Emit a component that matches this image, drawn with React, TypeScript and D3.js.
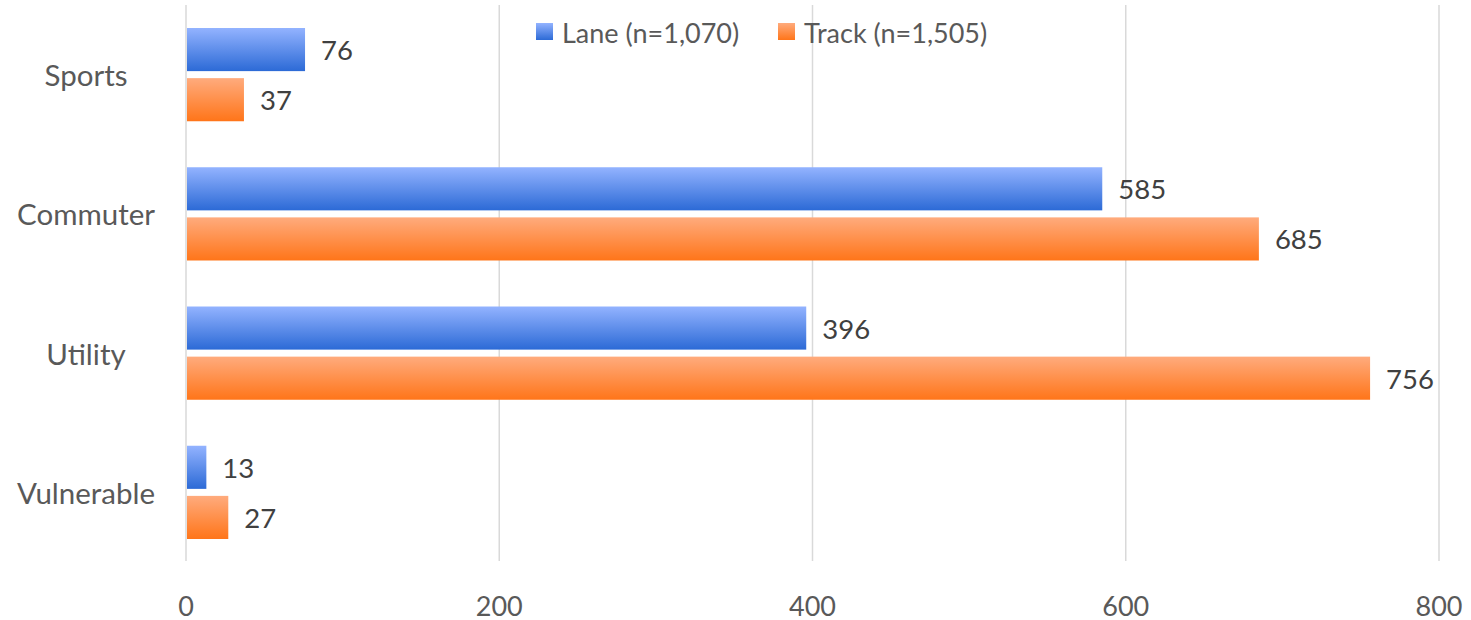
import React, { useEffect, useRef } from 'react';
import * as d3 from 'd3';

const categories = ['Sports', 'Commuter', 'Utility', 'Vulnerable'];
const seriesNames = ['Lane (n=1,070)', 'Track (n=1,505)'];
const laneValues = [76, 585, 396, 13];
const trackValues = [37, 685, 756, 27];
const xTicks = [0, 200, 400, 600, 800];

const W = 1471;
const H = 620;
const FONT = 'Lato, "Open Sans", sans-serif';

export default function App() {
  const ref = useRef<SVGSVGElement>(null);

  useEffect(() => {
    const svg = d3.select(ref.current);
    svg.selectAll('*').remove();

    const defs = svg.append('defs');
    const grads = [
      { id: 'gLane', top: '#93b3ff', bottom: '#2c6ad6' },
      { id: 'gTrack', top: '#ffab7d', bottom: '#ff7519' },
    ];
    grads.forEach((g) => {
      const lg = defs
        .append('linearGradient')
        .attr('id', g.id)
        .attr('x1', 0)
        .attr('y1', 0)
        .attr('x2', 0)
        .attr('y2', 1);
      lg.append('stop').attr('offset', '0%').attr('stop-color', g.top);
      lg.append('stop').attr('offset', '100%').attr('stop-color', g.bottom);
    });

    const x = d3.scaleLinear().domain([0, 800]).range([186, 1439]);
    const y = d3.scaleBand().domain(categories).range([5, 562]);
    const ySub = d3
      .scaleBand()
      .domain(['lane', 'track'])
      .range([23, y.bandwidth() - 23])
      .paddingInner(0.14);

    // gridlines
    svg
      .append('g')
      .selectAll('line')
      .data(xTicks)
      .enter()
      .append('line')
      .attr('x1', (d) => x(d))
      .attr('x2', (d) => x(d))
      .attr('y1', 5)
      .attr('y2', 561)
      .attr('stroke', '#d9d9d9')
      .attr('stroke-width', 1.5);

    // tick labels
    svg
      .append('g')
      .selectAll('text')
      .data(xTicks)
      .enter()
      .append('text')
      .attr('x', (d) => x(d))
      .attr('y', 605)
      .attr('text-anchor', 'middle')
      .attr('dominant-baseline', 'central')
      .attr('font-family', FONT)
      .attr('font-size', 27)
      .attr('fill', '#595959')
      .text((d) => d);

    // category labels
    svg
      .append('g')
      .selectAll('text')
      .data(categories)
      .enter()
      .append('text')
      .attr('x', 86)
      .attr('y', (d) => (y(d) as number) + y.bandwidth() / 2)
      .attr('text-anchor', 'middle')
      .attr('dominant-baseline', 'central')
      .attr('font-family', FONT)
      .attr('font-size', 29.5)
      .attr('fill', '#595959')
      .text((d) => d);

    const series = [
      { key: 'lane', values: laneValues, fill: 'url(#gLane)' },
      { key: 'track', values: trackValues, fill: 'url(#gTrack)' },
    ];

    series.forEach((s) => {
      const g = svg.append('g');
      g.selectAll('rect')
        .data(s.values)
        .enter()
        .append('rect')
        .attr('x', x(0) + 1)
        .attr('y', (d, i) => (y(categories[i]) as number) + (ySub(s.key) as number))
        .attr('width', (d) => x(d) - x(0) - 1)
        .attr('height', ySub.bandwidth())
        .attr('fill', s.fill);

      g.selectAll('text')
        .data(s.values)
        .enter()
        .append('text')
        .attr('x', (d) => x(d) + 16)
        .attr(
          'y',
          (d, i) =>
            (y(categories[i]) as number) + (ySub(s.key) as number) + ySub.bandwidth() / 2
        )
        .attr('dominant-baseline', 'central')
        .attr('font-family', FONT)
        .attr('font-size', 27.5)
        .attr('fill', '#404040')
        .text((d) => d);
    });

    // legend
    const legendX = [536, 778];
    const legend = svg
      .append('g')
      .selectAll('g')
      .data(seriesNames)
      .enter()
      .append('g')
      .attr('transform', (d, i) => `translate(${legendX[i]},23)`);
    legend
      .append('rect')
      .attr('width', 17)
      .attr('height', 17)
      .attr('fill', (d, i) => series[i].fill);
    legend
      .append('text')
      .attr('x', 26)
      .attr('y', 9)
      .attr('dominant-baseline', 'central')
      .attr('font-family', FONT)
      .attr('font-size', 27)
      .attr('fill', '#595959')
      .text((d) => d);
  }, []);

  return (
    <svg
      ref={ref}
      width={W}
      height={H}
      style={{ position: 'absolute', left: 0, top: 0, background: '#fff' }}
    />
  );
}
